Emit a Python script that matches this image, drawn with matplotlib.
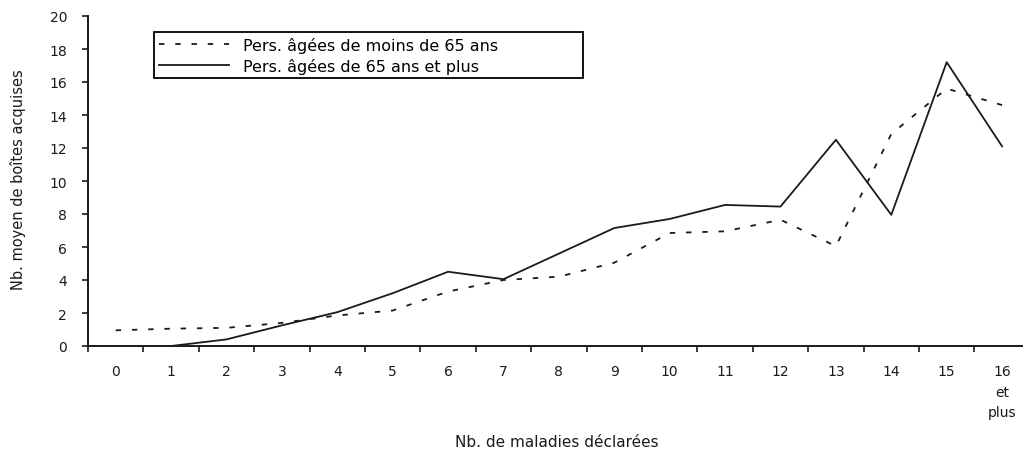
import matplotlib
matplotlib.use("Agg")
import matplotlib.pyplot as plt

categories = ["0", "1", "2", "3", "4", "5", "6", "7", "8", "9", "10",
              "11", "12", "13", "14", "15", "16\net\nplus"]
moins65 = [0.95, 1.05, 1.1, 1.4, 1.85, 2.15, 3.3, 4.0, 4.2, 5.05, 6.85,
           6.95, 7.65, 6.05, 12.85, 15.6, 14.6]
plus65_cats = list(range(1, 17))
plus65 = [0.0, 0.4, 1.25, 2.05, 3.2, 4.5, 4.05, 5.6, 7.15, 7.7, 8.55,
          8.45, 12.5, 7.95, 17.2, 12.1]
yticks = list(range(0, 21, 2))

label_moins = "Pers. âgées de moins de 65 ans"
label_plus = "Pers. âgées de 65 ans et plus"
xlabel = "Nb. de maladies déclarées"
ylabel = "Nb. moyen de boîtes acquises"

plt.rcParams['font.family'] = ['DejaVu Sans']
W, H = 1023, 456
fig = plt.figure(figsize=(W / 100, H / 100), dpi=100)
ax = fig.add_axes([88 / W, (H - 347) / H, 941.8 / W, 330 / H])

x_all = list(range(len(categories)))
ink = "#1a1a1a"
ax.plot(x_all, moins65, color=ink, lw=1.3, dashes=(3.0, 6.0),
        label=label_moins)
ax.plot(plus65_cats, plus65, color=ink, lw=1.3, label=label_plus)

ax.set_xlim(-0.5, 16.5)
ax.set_ylim(0, 20)

ax.set_yticks(yticks)
ax.set_yticklabels([str(v) for v in yticks], fontsize=10)
ax.tick_params(axis='y', direction='out', length=4, width=1.2, pad=11,
               colors=ink)

ax.set_xticks(x_all)
ax.set_xticklabels(categories, fontsize=10, linespacing=1.6, va='top')
ax.set_xticks([i + 0.5 for i in range(-1, 17)], minor=True)
ax.tick_params(axis='x', which='major', length=0, pad=13, colors=ink)
ax.tick_params(axis='x', which='minor', length=4, width=1.2, direction='out',
               colors=ink)

for s in ['top', 'right']:
    ax.spines[s].set_visible(False)
for s in ['left', 'bottom']:
    ax.spines[s].set_linewidth(1.4)
    ax.spines[s].set_color(ink)

fig.text(18 / W, (H - 180) / H, ylabel, rotation=90, ha='center',
         va='center', fontsize=10.5, color=ink)
fig.text(557 / W, (H - 443) / H, xlabel, ha='center', va='center',
         fontsize=11, color=ink)

leg = fig.legend(loc='upper left',
                 bbox_to_anchor=(154 / W, (H - 85) / H, 429 / W, 52 / H),
                 bbox_transform=fig.transFigure, mode='expand',
                 borderaxespad=0, fancybox=False, framealpha=1,
                 edgecolor='black', fontsize=11.5, handlelength=4.4,
                 handletextpad=0.9, labelspacing=0.3, borderpad=0.3)
leg.get_frame().set_linewidth(1.3)

fig.savefig("out.png", dpi=100)
